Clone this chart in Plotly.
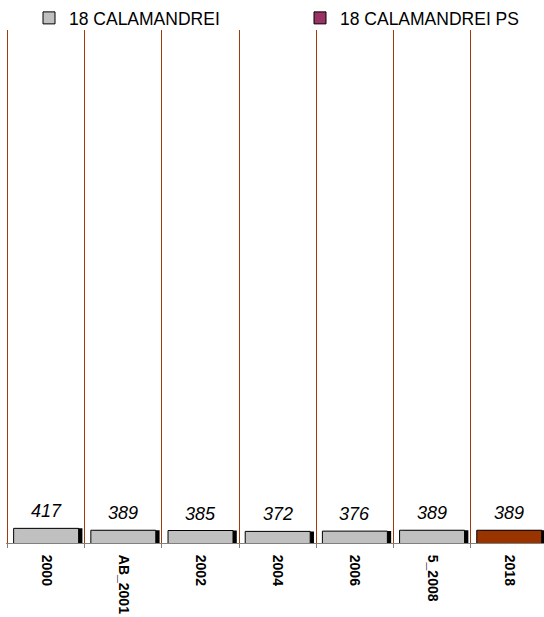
import plotly.graph_objects as go

categories = ["2000", "AB_2001", "2002", "2004", "2006", "5_2008", "2018"]
calamandrei = [417, 389, 385, 372, 376, 389, None]
calamandrei_ps = [None, None, None, None, None, None, 389]
all_values = [417, 389, 385, 372, 376, 389, 389]

series_names = ["18 CALAMANDREI", "18 CALAMANDREI PS"]
gray = "#C0C0C0"
ps_legend = "#993366"
ps_bar = "#993300"

FONT = "Arial, 'Liberation Sans', sans-serif"

fig = go.Figure()

# black depth/shadow behind the bars
fig.add_trace(go.Bar(
    x=categories, y=all_values, width=0.84, offset=-0.37,
    marker=dict(color="#000000", line=dict(width=0)),
    showlegend=False, hoverinfo="skip",
))

fig.add_trace(go.Bar(
    x=categories, y=calamandrei, name=series_names[0],
    width=0.842, offset=-0.421, legend="legend",
    marker=dict(color=gray, line=dict(color="#000000", width=1)),
))

ps_colors = [ps_legend] * (len(categories) - 1) + [ps_bar]
fig.add_trace(go.Bar(
    x=categories, y=calamandrei_ps, name=series_names[1],
    width=0.842, offset=-0.421, legend="legend2",
    marker=dict(color=ps_colors, line=dict(color="#000000", width=1)),
))

for i, v in enumerate(all_values):
    fig.add_annotation(
        x=i, y=v, text=str(v), showarrow=False,
        yanchor="bottom", yshift=5,
        font=dict(family=FONT, size=18, color="#000000", style="italic"),
    )

legend_common = dict(
    orientation="h", yref="container", y=1.0, yanchor="top",
    xref="container", xanchor="left",
    font=dict(family=FONT, size=17.5, color="#000000"),
    bgcolor="rgba(0,0,0,0)", borderwidth=0,
)

fig.update_layout(
    width=544, height=617,
    margin=dict(l=6, r=0, t=30, b=74, autoexpand=False),
    barmode="overlay",
    plot_bgcolor="#FFFFFF", paper_bgcolor="#FFFFFF",
    font=dict(family=FONT, color="#000000"),
    showlegend=True,
    legend=dict(x=29 / 544, **legend_common),
    legend2=dict(x=300 / 544, **legend_common),
    xaxis=dict(
        type="category", range=[-0.52, 6.45],
        tickson="boundaries", ticks="outside", ticklen=4,
        tickcolor="#808080", tickwidth=1,
        showline=True, linecolor="#808080", linewidth=1,
        showgrid=True, gridcolor="#A23A0C", gridwidth=1,
        tickangle=90, ticklabelstandoff=8,
        tickfont=dict(family=FONT, size=14, color="#000000", weight="bold"),
        fixedrange=True,
    ),
    yaxis=dict(
        range=[200, 7800], visible=False, showgrid=False, zeroline=False,
        fixedrange=True,
    ),
)

fig.write_html(
    "out.html",
    config={"displayModeBar": False},
    post_script="document.body.style.margin='0';",
)
